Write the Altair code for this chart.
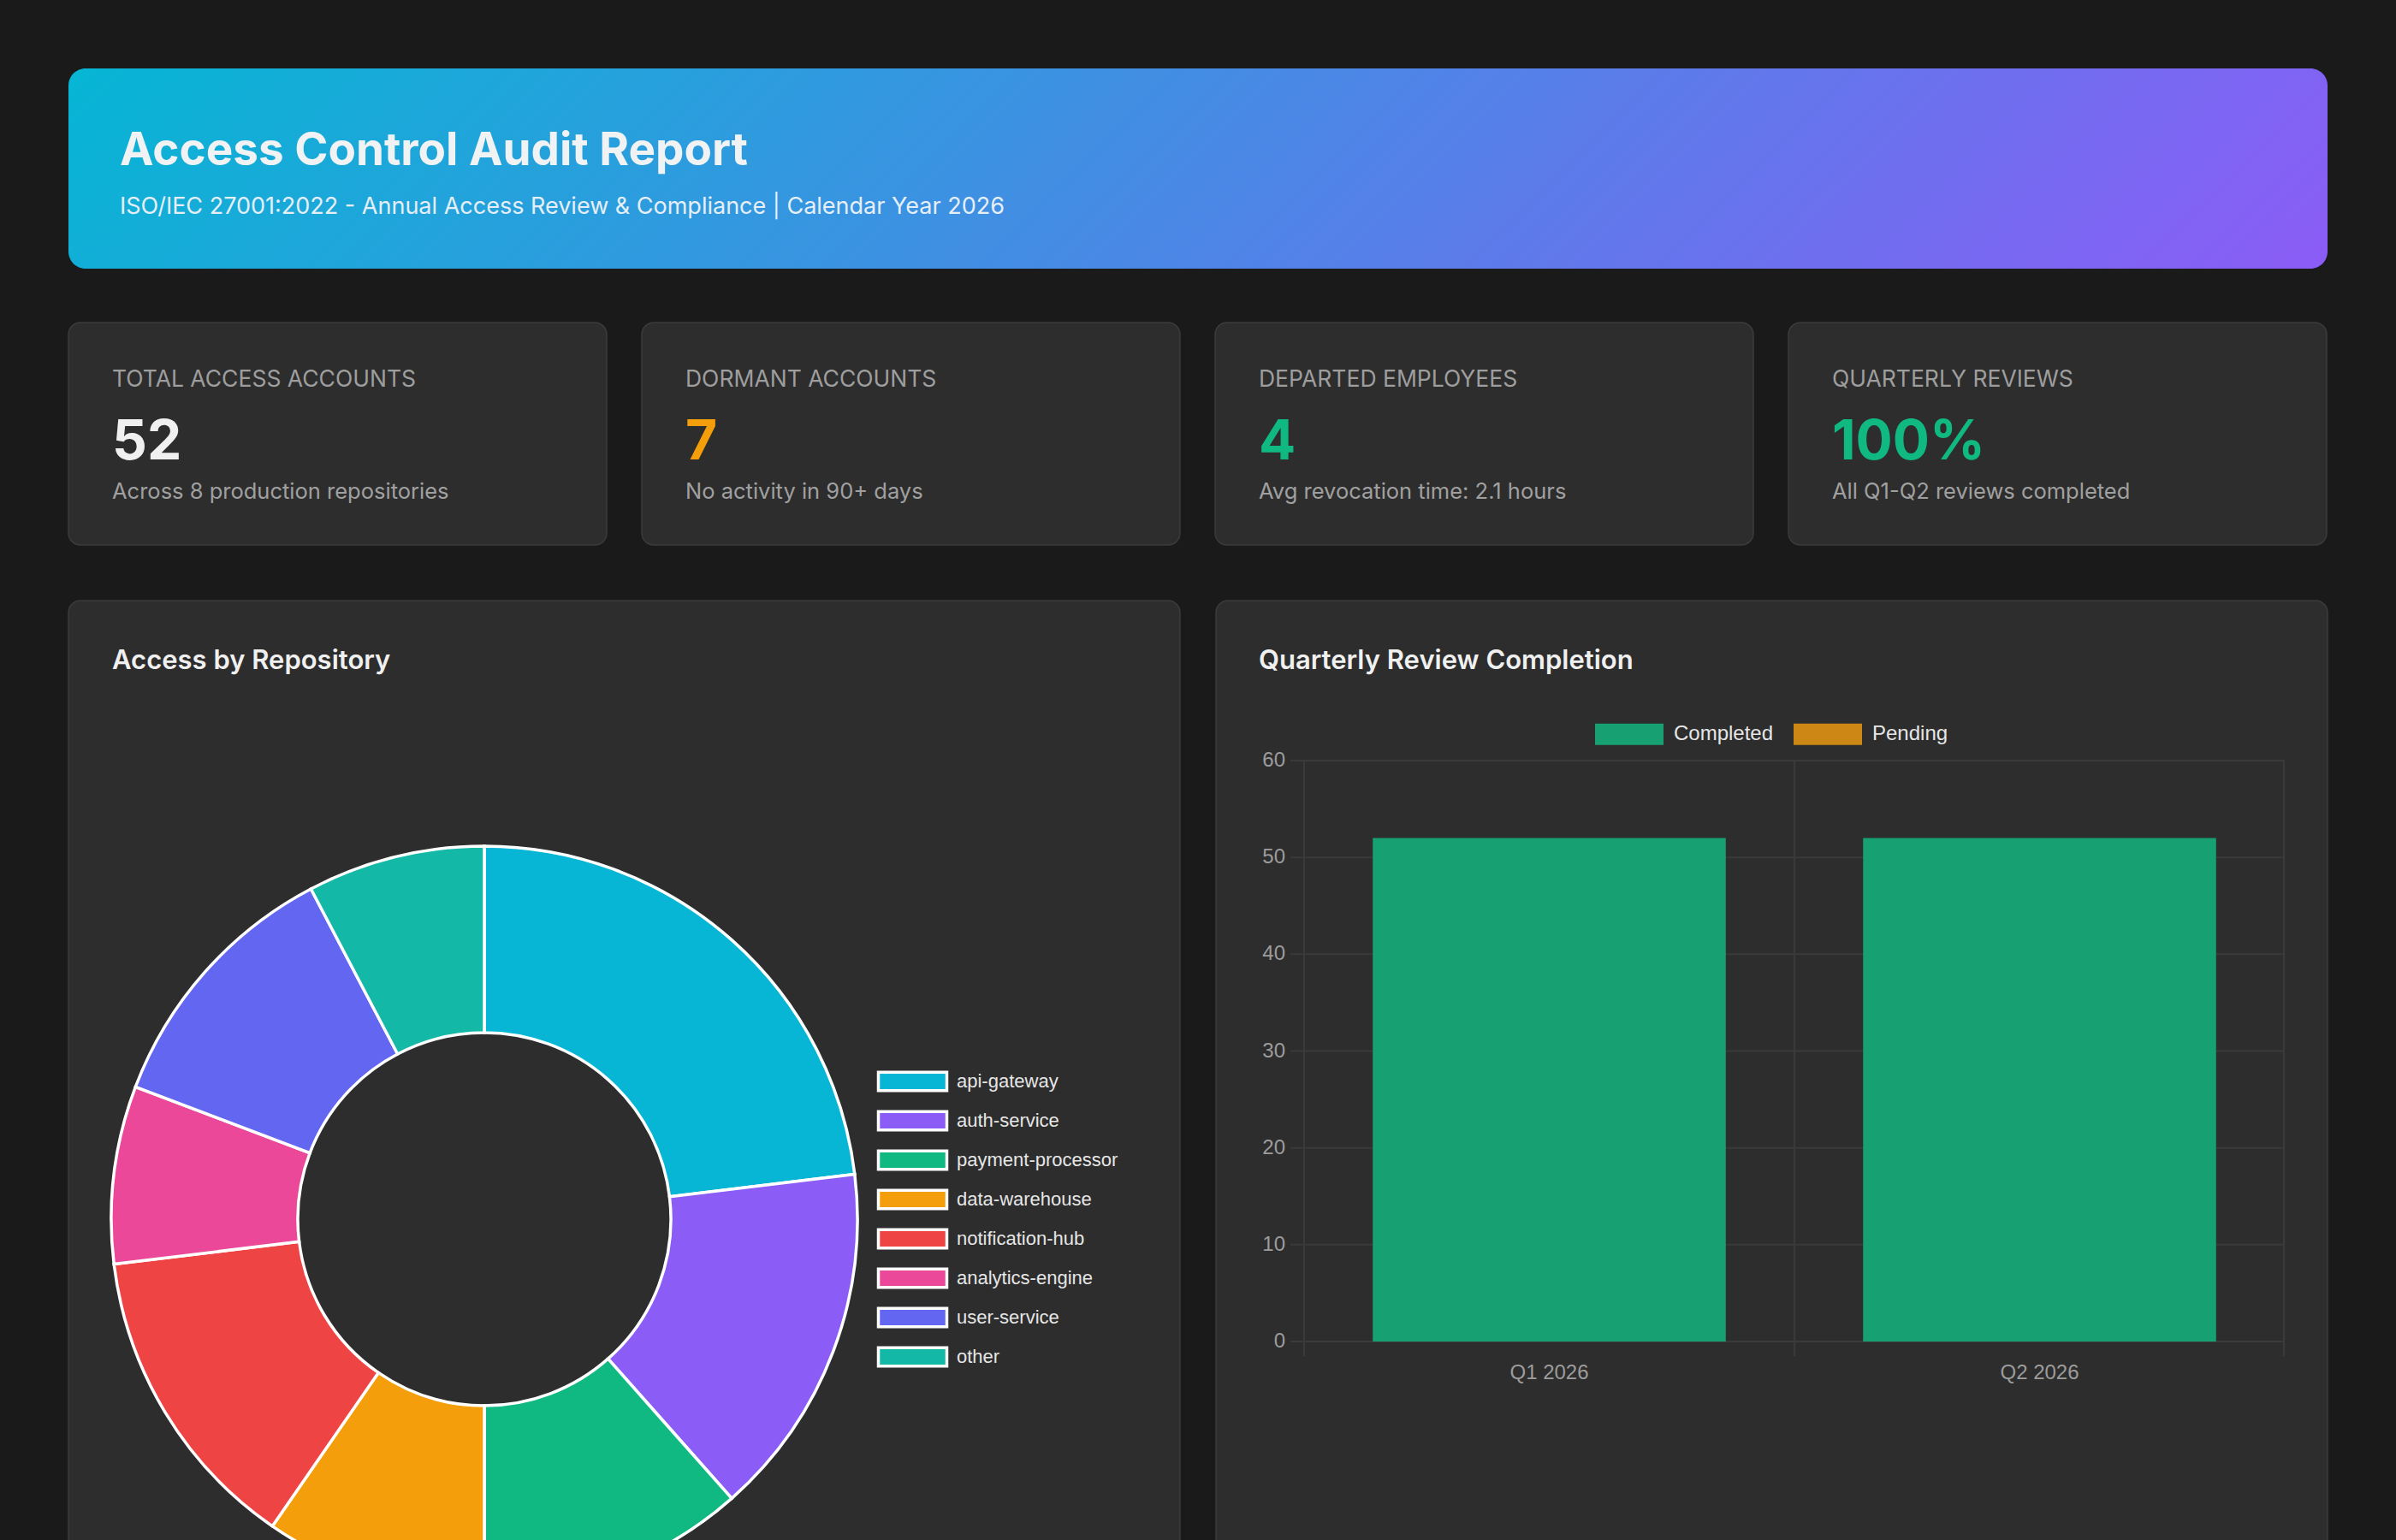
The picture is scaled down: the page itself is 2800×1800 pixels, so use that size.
import altair as alt
import pandas as pd

# ---------------- data ----------------
repo_names = ["api-gateway", "auth-service", "payment-processor", "data-warehouse",
              "notification-hub", "analytics-engine", "user-service", "other"]
repo_accounts = [12, 8, 6, 5, 7, 4, 6, 4]
repo_colors = ["#06b6d4", "#8b5cf6", "#10b981", "#f59e0b",
               "#ef4444", "#ec4899", "#6366f1", "#14b8a6"]

quarters = ["Q1 2026", "Q2 2026"]
completed = [52, 52]
pending = [0, 0]
status_names = ["Completed", "Pending"]
status_colors = ["#17a071", "#cd8714"]
y_ticks = [0, 10, 20, 30, 40, 50, 60]

kpi_labels = ["TOTAL ACCESS ACCOUNTS", "DORMANT ACCOUNTS", "DEPARTED EMPLOYEES", "QUARTERLY REVIEWS"]
kpi_values = ["52", "7", "4", "100%"]
kpi_notes = ["Across 8 production repositories", "No activity in 90+ days",
             "Avg revocation time: 2.1 hours", "All Q1-Q2 reviews completed"]
kpi_colors = ["#f0f0f0", "#f59e0b", "#10b981", "#10b981"]

page_title = "Access Control Audit Report"
page_subtitle = "ISO/IEC 27001:2022 - Annual Access Review & Compliance | Calendar Year 2026"
donut_title = "Access by Repository"
bar_title = "Quarterly Review Completion"

# ---------------- styling ----------------
W, H = 2800, 1800
PAGE_BG = "#1a1a1a"
CARD_BG = "#2d2d2d"
CARD_EDGE = "#3b3b3b"
UI_FONT = "Inter"
CHART_FONT = "Liberation Sans"
GRID = "#3a3a3a"
TICK_TEXT = "#9c9c9c"
LEGEND_TEXT = "#e6e6e6"

one = alt.Data(values=[{}])


def box(x, x2, y, y2, **style):
    return alt.Chart(one).mark_rect(**style).encode(
        x=alt.value(x), x2=alt.value(x2), y=alt.value(y), y2=alt.value(y2))


def label(text, x, y, size, color, weight=400, font=UI_FONT, align="left", baseline="alphabetic"):
    return alt.Chart(one).mark_text(
        text=text, align=align, baseline=baseline, fontSize=size, color=color,
        fontWeight=weight, font=font).encode(x=alt.value(x), y=alt.value(y))


layers = []

# header banner
header_fill = alt.Gradient(
    gradient="linear",
    stops=[alt.GradientStop(color="#06b6d4", offset=0),
           alt.GradientStop(color="#8b5cf6", offset=1)],
    x1=0, y1=0, x2=1.08, y2=0.096)
layers.append(box(80, 2720, 80, 314, fill=header_fill, cornerRadius=20))
layers.append(label(page_title, 140, 193, 53, "#f0f2f4", weight=700))
layers.append(label(page_subtitle, 140, 250, 27, "#e6eef6"))

# KPI cards
card_lefts = [80, 750, 1420, 2090]
for i, left in enumerate(card_lefts):
    layers.append(box(left, left + 629, 377, 637, fill=CARD_BG, stroke=CARD_EDGE,
                      strokeWidth=1.5, cornerRadius=14))
    layers.append(label(kpi_labels[i], left + 51, 452, 26.5, "#9e9e9e"))
    layers.append(label(kpi_values[i], left + 51, 537, 64, kpi_colors[i], weight=700))
    layers.append(label(kpi_notes[i], left + 51, 583, 25.5, "#a0a0a0"))

# chart cards
layers.append(box(80, 1379, 702, 1840, fill=CARD_BG, stroke=CARD_EDGE, strokeWidth=1.5, cornerRadius=14))
layers.append(box(1421, 2720, 702, 1840, fill=CARD_BG, stroke=CARD_EDGE, strokeWidth=1.5, cornerRadius=14))
layers.append(label(donut_title, 131, 782, 31, "#f0f0f0", weight=600))
layers.append(label(bar_title, 1471, 782, 31, "#f0f0f0", weight=600))

# ---------------- donut ----------------
repo_df = pd.DataFrame({"repo": repo_names, "accounts": repo_accounts,
                        "idx": list(range(len(repo_names)))})
repo_color_scale = alt.Scale(domain=repo_names, range=repo_colors)
donut = alt.Chart(repo_df).mark_arc(
    radius=436, radius2=218, stroke="#ffffff", strokeWidth=3.5
).encode(
    theta=alt.Theta("accounts:Q", stack=True),
    order=alt.Order("idx:Q"),
    color=alt.Color("repo:N", sort=repo_names, scale=repo_color_scale, legend=None),
    x=alt.value(566),
    y=alt.value(1425),
)
layers.append(donut)

# donut key: one swatch and name per repository, stacked down a point scale
key_y = alt.Y("repo:N", sort=repo_names, axis=None,
              scale=alt.Scale(type="point", domain=repo_names, range=[1264, 1586], padding=0))
key_swatch = alt.Chart(repo_df).mark_point(
    shape="M-1,-0.27H1V0.27H-1Z", size=6400, filled=True, opacity=1,
    stroke="#ffffff", strokeWidth=3.5
).encode(
    y=key_y, x=alt.value(1066.5),
    fill=alt.Fill("repo:N", sort=repo_names, scale=repo_color_scale, legend=None),
)
key_text = alt.Chart(repo_df).mark_text(
    align="left", baseline="middle", font=CHART_FONT, fontSize=22, color=LEGEND_TEXT
).encode(y=key_y, x=alt.value(1118), text="repo:N")
layers.append(key_swatch)
layers.append(key_text)

# ---------------- bar chart ----------------
x_scale = alt.Scale(domain=quarters, range=[1524, 2670], paddingInner=0.28, paddingOuter=0.14)
y_scale = alt.Scale(domain=[0, 60], range=[1568, 889])

tick_df = pd.DataFrame({"tick": y_ticks})
grid = alt.Chart(tick_df).mark_rule(color=GRID, strokeWidth=2).encode(
    y=alt.Y("tick:Q", scale=y_scale, axis=None),
    x=alt.value(1508), x2=alt.value(2670))
layers.append(grid)
for gx in (1524, 2097, 2669):
    layers.append(alt.Chart(one).mark_rule(color=GRID, strokeWidth=2).encode(
        x=alt.value(gx), y=alt.value(889), y2=alt.value(1585)))

y_labels = alt.Chart(tick_df).mark_text(
    align="right", baseline="middle", font=CHART_FONT, fontSize=24, color=TICK_TEXT
).encode(y=alt.Y("tick:Q", scale=y_scale, axis=None), x=alt.value(1502), text="tick:Q")
layers.append(y_labels)

bar_rows = []
for q, c, p in zip(quarters, completed, pending):
    bar_rows.append({"quarter": q, "status": "Completed", "count": c, "s": 0})
    bar_rows.append({"quarter": q, "status": "Pending", "count": p, "s": 1})
bar_df = pd.DataFrame(bar_rows)

bars = alt.Chart(bar_df).mark_bar().encode(
    x=alt.X("quarter:N", scale=x_scale, axis=None, sort=quarters),
    y=alt.Y("count:Q", stack="zero", scale=y_scale, axis=None),
    order=alt.Order("s:Q"),
    color=alt.Color(
        "status:N",
        scale=alt.Scale(domain=status_names, range=status_colors),
        legend=alt.Legend(
            title=None, orient="none", legendX=1864, legendY=818, direction="horizontal",
            symbolType="M-1,-0.3125H1V0.3125H-1Z", symbolSize=6400,
            symbolStrokeWidth=0, symbolOpacity=1,
            labelFont=CHART_FONT, labelFontSize=24, labelColor=LEGEND_TEXT,
            labelOffset=12, columnPadding=23, padding=0),
    ),
)
layers.append(bars)

x_labels = alt.Chart(pd.DataFrame({"quarter": quarters})).mark_text(
    align="center", baseline="middle", font=CHART_FONT, fontSize=24, color=TICK_TEXT
).encode(
    x=alt.X("quarter:N", scale=x_scale, axis=None, sort=quarters, bandPosition=0.5),
    y=alt.value(1605), text="quarter:N")
layers.append(x_labels)

chart = alt.layer(*layers).properties(
    width=W, height=H,
    autosize=alt.AutoSizeParams(type="none"),
    padding=0,
    background=PAGE_BG,
).resolve_scale(
    x="independent", y="independent", color="independent", fill="independent"
).configure_view(stroke=None)

chart.save("out.html", embed_options={"renderer": "svg", "actions": False})
